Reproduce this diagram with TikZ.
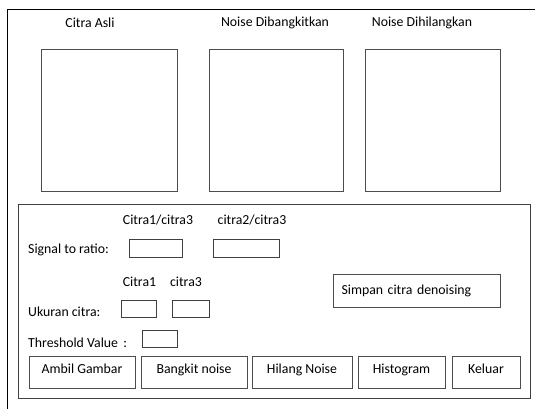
\documentclass[tikz,border=0pt]{standalone}
\usepackage{fontspec}
\setmainfont{Carlito}
\usepackage{tikz}
\usetikzlibrary{positioning}
\tikzstyle{frame} = [rectangle, draw=black, line width=1pt]
\tikzstyle{imgbox} = [rectangle, draw=black!70, line width=1pt, inner sep=0pt, minimum width=135pt, minimum height=142pt]
\tikzstyle{field} = [rectangle, draw=black!75, line width=0.9pt, inner sep=0pt, minimum height=17pt]
\tikzstyle{button} = [rectangle, draw=black!70, line width=1pt, inner sep=0pt, minimum height=32pt, text depth=6pt]
\tikzstyle{title} = [text centered, inner sep=0pt]
\tikzstyle{caption} = [anchor=west, inner sep=0pt]

\begin{document}
\begin{tikzpicture}[x=1pt, y=-1pt, font=\fontsize{13.8}{16}\selectfont]
		\clip (0,0) rectangle (535,408);
		\fill [white] (0,0) rectangle (535,408);
		\draw [frame] (7,9) rectangle (560,430);
		% image panels
		\node (asli) [title] at (90,23) {Citra Asli};
		\node (bangkit) [title] at (275,23) {Noise Dibangkitkan};
		\node (hilang) [title] at (422,23) {Noise Dihilangkan};
		\node (imgasli) [imgbox, minimum width=136pt] at (109,120) {};
		\node (imgbangkit) [imgbox, minimum width=134pt] at (276,120) {};
		\node (imghilang) [imgbox] at (432.5,120) {};
		% control panel
		\node (panel) [rectangle, draw=black!75, line width=1pt, minimum width=512pt, minimum height=194pt, inner sep=0pt] at (274,301) {};
		\node (hsnr1) [title] at (158,220) {Citra1/citra3};
		\node (hsnr2) [title] at (252,220) {citra2/citra3};
		\node (snr) [caption] at (28,250) {Signal to ratio:};
		\node (snr1) [field, minimum width=53pt, minimum height=18pt] at (155.5,248) {};
		\node (snr2) [field, minimum width=66pt, minimum height=18pt] at (246,248) {};
		\node (hukuran1) [title] at (139.5,282) {Citra1};
		\node (hukuran2) [title] at (186,282) {citra3};
		\node (ukuran) [caption] at (28,312) {Ukuran citra:};
		\node (ukuran1) [field, minimum width=35pt] at (138.5,308.5) {};
		\node (ukuran2) [field, minimum width=37pt] at (190.5,308.5) {};
		\node (thres) [caption] at (28,343) {Threshold Value \,:};
		\node (thres1) [field, minimum width=35pt] at (159.5,338.5) {};
		\node (simpan) [button, minimum width=167pt, minimum height=33pt, text depth=2pt, text width=150pt, align=left] at (416.5,290.5) {Simpan citra denoising};
		% buttons
		\node (ambil) [button, minimum width=106pt] at (82,372) {Ambil Gambar};
		\node (bnoise) [button, minimum width=106pt] at (194,372) {Bangkit noise};
		\node (hnoise) [button, minimum width=100pt] at (302,372) {Hilang Noise};
		\node (histo) [button, minimum width=87pt] at (401.5,372) {Histogram};
		\node (keluar) [button, minimum width=68pt] at (486,372) {Keluar};
	\end{tikzpicture}
\end{document}
